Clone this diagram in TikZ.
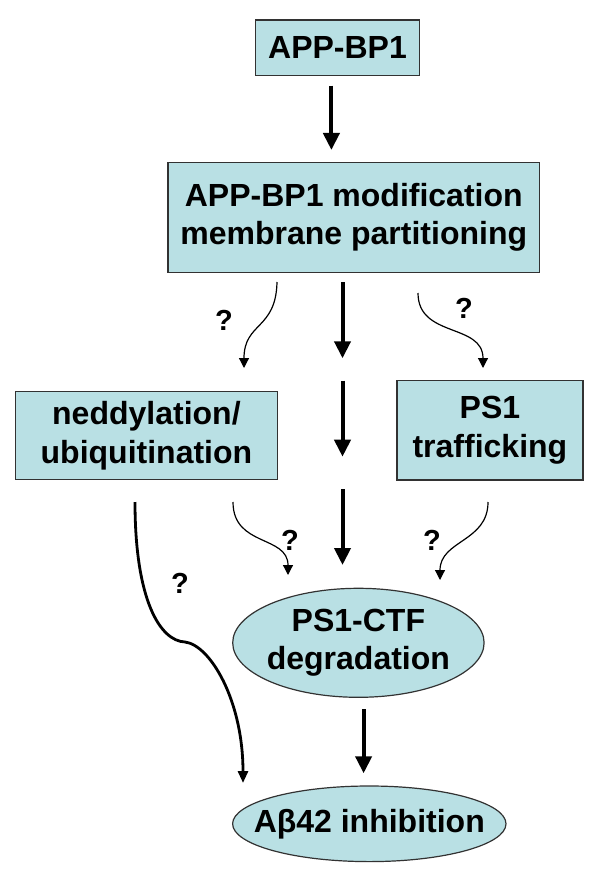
\documentclass[tikz,border=0pt]{standalone}
\usepackage{fontspec}
\setmainfont{Liberation Sans}
\usetikzlibrary{arrows.meta, shapes.geometric}
\definecolor{boxfill}{RGB}{185,224,228}
\definecolor{boxline}{RGB}{50,50,50}
\tikzset{>={Triangle[length=8.5pt,width=8pt]}}

\begin{document}
\begin{tikzpicture}[x=0.5pt, y=-0.5pt,
  boxtext/.style={align=center, font=\fontsize{16}{19.3}\selectfont\bfseries},
  box/.style={boxtext, draw=boxline, line width=0.6pt, fill=boxfill, inner sep=0pt},
  blob/.style={box, ellipse},
  mainarrow/.style={line width=2pt, ->},
  thinarrow/.style={line width=0.6pt, -{Triangle[length=5pt,width=5pt]}},
  sidearrow/.style={line width=1.4pt, -{Triangle[length=6pt,width=5pt]}},
  query/.style={font=\fontsize{14.5}{16}\selectfont\bfseries}]
\useasboundingbox (0,0) rectangle (600,877);
% boxes and ellipses
\node[box, minimum width=82pt, minimum height=27.7pt] (app) at (337.5,47.7) {APP-BP1};
\node[box, minimum width=185.8pt, minimum height=55pt] (mod) at (353.8,217.3) {APP-BP1 modification\\membrane partitioning};
\node[box, minimum width=131pt, minimum height=44pt] (ned) at (146.4,435.8) {neddylation/\\ubiquitination};
\node[box, minimum width=93pt, minimum height=49.7pt] (traf) at (489.9,430.3) {PS1\\trafficking};
\node[blob, minimum width=125.7pt, minimum height=54.5pt, label={[boxtext]center:PS1-CTF\\degradation}] (ctf) at (358.4,642.8) {};
\node[blob, minimum width=136.7pt, minimum height=37.8pt, label={[boxtext]center:Aβ42 inhibition}] (abeta) at (369.3,823.8) {};
% straight arrows
\coordinate (top0) at (331.4,85.7);
\coordinate (top1) at (331.4,150);
\draw[mainarrow] (top0) -- (top1);
\foreach \a/\b [count=\i] in {282/358.3, 380.7/456.7, 489.3/565}{
\coordinate (mid\i a) at (342.5,\a);
\coordinate (mid\i b) at (342.5,\b);
\draw[mainarrow] (mid\i a) -- (mid\i b);
}
\coordinate (bot0) at (363.6,709);
\coordinate (bot1) at (363.6,773.3);
\draw[mainarrow] (bot0) -- (bot1);
% curved arrows
\coordinate (ul0) at (277,282);
\coordinate (ul1) at (244,368);
\coordinate (ur0) at (418,293);
\coordinate (ur1) at (483,368);
\coordinate (ll0) at (233,502);
\coordinate (ll1) at (288,575);
\coordinate (lr0) at (488,502);
\coordinate (lr1) at (440,580);
\draw[thinarrow] (ul0) .. controls +(-1,48) and +(0,-46) .. (ul1);
\draw[thinarrow] (ur0) .. controls +(0,45) and +(0,-45) .. (ur1);
\draw[thinarrow] (ll0) .. controls +(0,45) and +(0,-40) .. (ll1);
\draw[thinarrow] (lr0) .. controls +(0,40) and +(0,-40) .. (lr1);
\coordinate (long0) at (135,502);
\coordinate (kink) at (185,642);
\coordinate (long1) at (243,783);
\draw[sidearrow] (long0) .. controls +(0,98) and +(-25,-1) .. (kink) .. controls +(25,3) and +(0,-83) .. (long1);
% question marks
\node[query] (q1) at (224,320) {?};
\node[query] (q2) at (464,308) {?};
\node[query] (q3) at (290,540) {?};
\node[query] (q4) at (432,540) {?};
\node[query] (q5) at (180,583) {?};
\end{tikzpicture}
\end{document}
